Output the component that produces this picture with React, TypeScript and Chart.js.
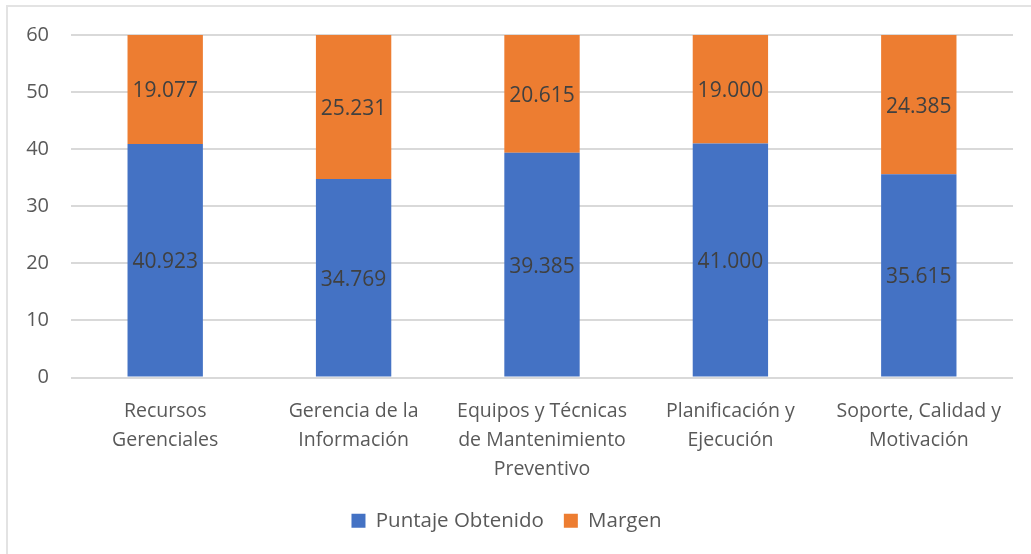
import React, { useEffect, useRef } from "react";
import { Chart, registerables } from "chart.js";

Chart.register(...registerables);

const categories: string[][] = [
  ["Recursos", "Gerenciales"],
  ["Gerencia de la", "Información"],
  ["Equipos y Técnicas", "de Mantenimiento", "Preventivo"],
  ["Planificación y", "Ejecución"],
  ["Soporte, Calidad y", "Motivación"],
];
const puntajeObtenido: number[] = [40.923, 34.769, 39.385, 41.0, 35.615];
const margen: number[] = [19.077, 25.231, 20.615, 19.0, 24.385];
const yTicks: number[] = [0, 10, 20, 30, 40, 50, 60];

const FONT = "'Open Sans', sans-serif";
const TEXT = "#595959";

const labelPlugin = {
  id: "segLabels",
  afterDatasetsDraw(chart: any) {
    const ctx = chart.ctx;
    ctx.save();
    ctx.font = `21px ${FONT}`;
    ctx.fillStyle = "#404040";
    ctx.textAlign = "center";
    ctx.textBaseline = "middle";
    chart.data.datasets.forEach((ds: any, di: number) => {
      const meta = chart.getDatasetMeta(di);
      meta.data.forEach((bar: any, i: number) => {
        const v = ds.data[i] as number;
        const y = (bar.y + bar.base) / 2;
        ctx.fillText(v.toFixed(3), bar.x, y + 2);
      });
    });
    ctx.restore();
  },
};

export default function App() {
  const ref = useRef<HTMLCanvasElement>(null);
  useEffect(() => {
    if (!ref.current) return;
    const chart = new Chart(ref.current, {
      type: "bar",
      data: {
        labels: categories,
        datasets: [
          { label: "Puntaje Obtenido", data: puntajeObtenido, backgroundColor: "#4472C4" },
          { label: "Margen", data: margen, backgroundColor: "#ED7D31" },
        ],
      },
      plugins: [labelPlugin],
      options: {
        animation: false,
        responsive: false,
        maintainAspectRatio: false,
        layout: { padding: { left: 0, top: 35, right: 18, bottom: 13 } },
        datasets: { bar: { barPercentage: 0.4, categoryPercentage: 1 } },
        plugins: {
          tooltip: { enabled: false },
          legend: {
            position: "bottom",
            labels: {
              font: { family: FONT, size: 20.5 },
              color: TEXT,
              boxWidth: 14,
              boxHeight: 14,
              padding: 20,
            },
          },
        },
        scales: {
          x: {
            stacked: true,
            grid: { display: false },
            border: { display: false },
            ticks: {
              font: { family: FONT, size: 19.5, lineHeight: 1.48 },
              color: TEXT,
              padding: 12,
              maxRotation: 0,
              autoSkip: false,
            },
            afterFit(scale: any) {
              scale.height = 113;
            },
          },
          y: {
            stacked: true,
            min: 0,
            max: 60,
            afterBuildTicks(scale: any) {
              scale.ticks = yTicks.map((v) => ({ value: v }));
            },
            grid: { color: "#d9d9d9", lineWidth: 2, drawTicks: false },
            border: { display: false },
            ticks: {
              font: { family: FONT, size: 20 },
              color: TEXT,
              padding: 22,
            },
            afterFit(scale: any) {
              scale.width = 71;
            },
          },
        },
      },
    });
    return () => chart.destroy();
  }, []);
  return (
    <div style={{ position: "absolute", left: 0, top: 0, width: 1031, height: 554, background: "#fff" }}>
      <div
        style={{
          position: "absolute",
          left: 6,
          top: 5,
          width: 1031,
          height: 554,
          borderLeft: "2px solid #e3e3e3",
          borderTop: "2px solid #e3e3e3",
        }}
      />
      <canvas ref={ref} width={1031} height={554} style={{ position: "absolute", left: 0, top: 0 }} />
    </div>
  );
}
